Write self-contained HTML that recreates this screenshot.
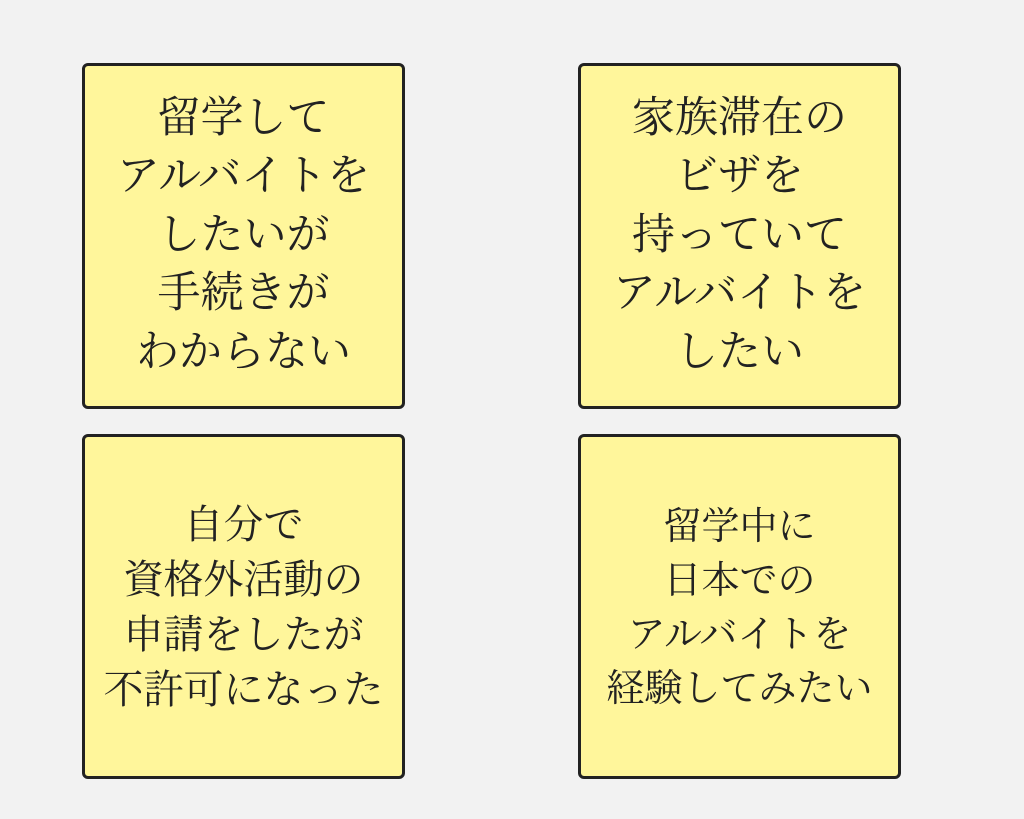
<!DOCTYPE html>
<html><head><meta charset="utf-8"><style>
body{margin:0;width:1024px;height:819px;background:#f2f2f2;position:relative;overflow:hidden}
.b{position:absolute;box-sizing:border-box;border:3px solid #222;border-radius:6px;background:#fff69b;display:flex;align-items:center;justify-content:center;text-align:center;color:#222;font-family:"Liberation Serif","Noto Serif CJK JP","Noto Serif CJK SC",serif;white-space:nowrap}
.l{font-size:43px;line-height:58.5px}
.s{font-size:40px;line-height:55px}
</style></head><body>
<div class="b l" style="left:82px;top:63px;width:323px;height:346px">留学して<br>アルバイトを<br>したいが<br>手続きが<br>わからない</div>
<div class="b l" style="left:578px;top:63px;width:323px;height:346px">家族滞在の<br>ビザを<br>持っていて<br>アルバイトを<br>したい</div>
<div class="b s" style="left:82px;top:434px;width:323px;height:345px">自分で<br>資格外活動の<br>申請をしたが<br>不許可になった</div>
<div class="b s" style="left:578px;top:434px;width:323px;height:345px;font-size:38px;line-height:54px;padding-top:3px">留学中に<br>日本での<br>アルバイトを<br>経験してみたい</div>
</body></html>
